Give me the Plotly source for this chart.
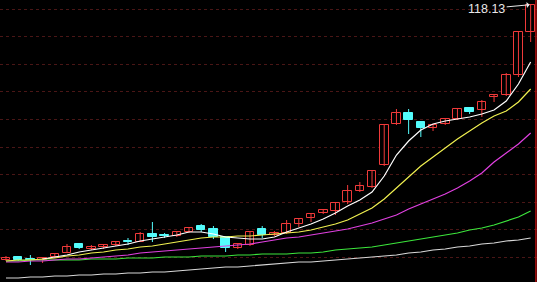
import plotly.graph_objects as go

# ---- data ----
days = list(range(44))
opens = [16.0, 17.2, 16.4, 16.0, 17.2, 18.8, 22.4, 20.4, 21.2, 22.0,
         23.6, 23.2, 26.4, 26.0, 25.6, 27.2, 29.6, 28.4, 25.2, 20.8,
         22.0, 28.4, 26.0, 26.8, 30.4, 32.8, 34.8, 35.6, 39.2, 43.6,
         45.2, 54.0, 70.4, 74.8, 71.2, 68.8, 70.4, 72.4, 76.8, 76.0,
         81.2, 82.0, 90.0, 107.2]
highs = [17.6, 17.6, 18.0, 17.2, 18.8, 22.4, 22.8, 22.0, 22.4, 23.6,
         24.8, 27.2, 31.2, 26.8, 27.6, 29.2, 30.4, 29.6, 25.6, 22.8,
         27.6, 29.6, 27.6, 32.0, 32.8, 34.8, 36.4, 39.2, 46.0, 47.2,
         52.0, 70.4, 76.4, 76.4, 71.6, 70.4, 72.8, 76.8, 77.2, 80.0,
         82.4, 90.8, 107.6, 118.13]
lows = [15.6, 15.6, 14.0, 14.8, 16.8, 18.8, 20.4, 20.0, 20.4, 21.6,
        22.0, 23.2, 23.2, 24.8, 25.2, 26.8, 27.2, 24.4, 19.2, 20.4,
        21.6, 24.8, 25.6, 26.4, 29.2, 31.2, 34.4, 34.0, 38.4, 43.2,
        44.8, 53.6, 70.0, 66.4, 65.2, 67.6, 70.0, 72.0, 74.4, 73.2,
        79.2, 81.6, 89.2, 103.2]
closes = [16.8, 16.0, 16.0, 16.8, 18.4, 21.2, 20.8, 21.2, 22.0, 23.2,
          23.2, 26.4, 25.2, 25.6, 27.2, 28.8, 28.0, 25.2, 20.8, 22.4,
          27.2, 26.0, 26.8, 30.4, 32.4, 34.4, 36.0, 38.8, 43.6, 45.6,
          51.6, 70.0, 74.8, 72.0, 68.8, 70.0, 72.4, 76.4, 75.2, 79.2,
          82.0, 90.0, 107.2, 118.13]

ma5 = [None, None, None, 16.4, 17.2, 18.0, 19.2, 20.0, 20.8, 21.6,
       22.4, 23.6, 24.4, 25.2, 26.0, 27.2, 27.2, 26.4, 25.2, 24.8,
       24.4, 24.4, 25.2, 27.2, 28.8, 30.4, 32.4, 34.8, 37.6, 40.0,
       43.2, 49.6, 58.0, 63.6, 68.0, 70.4, 71.6, 72.4, 73.2, 74.4,
       76.0, 79.6, 86.4, 95.2]
ma10 = [15.6, 16.0, 16.0, 16.4, 16.8, 17.6, 18.0, 18.8, 19.2, 20.0,
        20.4, 21.2, 21.6, 22.4, 23.2, 24.0, 24.8, 25.2, 25.2, 25.6,
        25.6, 26.0, 26.4, 26.8, 27.2, 28.0, 29.2, 30.4, 32.0, 34.4,
        36.8, 40.4, 44.8, 49.2, 53.6, 57.2, 60.8, 64.4, 67.6, 70.8,
        73.6, 75.6, 79.2, 84.4]
ma20 = [15.2, 15.2, 15.6, 15.6, 16.0, 16.4, 16.4, 16.8, 17.2, 17.6,
        18.0, 18.8, 19.2, 19.6, 20.0, 20.4, 20.8, 21.2, 21.6, 22.0,
        22.4, 23.2, 24.0, 24.8, 25.2, 26.0, 26.8, 27.6, 28.4, 29.6,
        30.8, 32.4, 34.0, 36.4, 38.4, 40.4, 42.4, 44.8, 47.6, 50.8,
        55.2, 58.8, 62.4, 66.8]
ma60 = [15.6, 15.6, 16.0, 16.0, 16.0, 16.0, 16.0, 16.4, 16.4, 16.4,
        16.8, 16.8, 16.8, 17.2, 17.2, 17.2, 17.6, 17.6, 17.6, 18.0,
        18.0, 18.4, 18.4, 18.4, 18.8, 18.8, 19.2, 20.0, 20.4, 20.8,
        21.2, 22.0, 22.8, 23.6, 24.4, 25.2, 26.0, 26.8, 28.0, 28.8,
        30.0, 31.6, 33.2, 35.6]
ma120 = [8.8, 8.8, 9.2, 9.2, 9.6, 9.6, 10.0, 10.0, 10.4, 10.4,
         10.8, 10.8, 11.2, 11.2, 11.6, 12.0, 12.4, 12.8, 13.2, 13.2,
         13.6, 14.0, 14.4, 14.8, 15.2, 15.2, 15.6, 16.0, 16.4, 16.8,
         17.2, 17.6, 18.0, 18.8, 19.2, 20.0, 20.4, 21.2, 21.6, 22.4,
         22.8, 23.6, 24.0, 24.8]
peak_label = "118.13"

RED = "#f03a3a"
CYAN = "#54fcfc"

fig = go.Figure()

# wicks
for is_up, col in ((True, RED), (False, CYAN)):
    wx, wy = [], []
    for d, o, h, l, c in zip(days, opens, highs, lows, closes):
        if (c >= o) == is_up:
            wx += [d, d, None]
            wy += [l, h, None]
    fig.add_trace(go.Scatter(x=wx, y=wy, mode="lines",
                             line=dict(color=col, width=1),
                             hoverinfo="skip", showlegend=False))

# bodies
ux = [d for d, o, c in zip(days, opens, closes) if c >= o]
uy = [c - o for o, c in zip(opens, closes) if c >= o]
ub = [o for o, c in zip(opens, closes) if c >= o]
dx = [d for d, o, c in zip(days, opens, closes) if c < o]
dy = [o - c for o, c in zip(opens, closes) if c < o]
db = [c for o, c in zip(opens, closes) if c < o]

fig.add_trace(go.Bar(x=ux, y=uy, base=ub, width=0.7,
                     marker=dict(color="#000000", line=dict(color=RED, width=1)),
                     showlegend=False, hoverinfo="skip"))
fig.add_trace(go.Bar(x=dx, y=dy, base=db, width=0.7,
                     marker=dict(color=CYAN, line=dict(color=CYAN, width=1)),
                     showlegend=False, hoverinfo="skip"))

# moving averages
for vals, col in ((ma120, "#d8d8d8"), (ma60, "#3ce63c"), (ma20, "#e040e0"),
                  (ma10, "#f0f050"), (ma5, "#ffffff")):
    fig.add_trace(go.Scatter(x=days, y=vals, mode="lines",
                             line=dict(color=col, width=1.2),
                             hoverinfo="skip", showlegend=False))

fig.add_annotation(x=days[-1], y=highs[-1], text=peak_label,
                   showarrow=True, ax=-44, ay=4, arrowhead=1, arrowsize=1,
                   arrowwidth=1, arrowcolor="#e8e8e8", standoff=1,
                   font=dict(family="Liberation Sans, Arial", size=12.5, color="#e8e8e8"))

# right red border
fig.add_shape(type="line", xref="paper", yref="paper", x0=0.998, x1=0.998,
              y0=0, y1=1, line=dict(color="#b01010", width=1.5))

fig.update_layout(
    width=537, height=282,
    margin=dict(l=0, r=0, t=0, b=0),
    paper_bgcolor="#000000", plot_bgcolor="#000000",
    barmode="overlay", bargap=0,
    xaxis=dict(range=[-0.49, 43.52], visible=False, showgrid=False, zeroline=False),
    yaxis=dict(range=[7.2, 120], showgrid=True, gridcolor="#4a1616",
               griddash="dot", gridwidth=1, tick0=17.04, dtick=11.04,
               showticklabels=False, zeroline=False, ticks=""),
)

fig.write_html("out.html", config={"displayModeBar": False})
